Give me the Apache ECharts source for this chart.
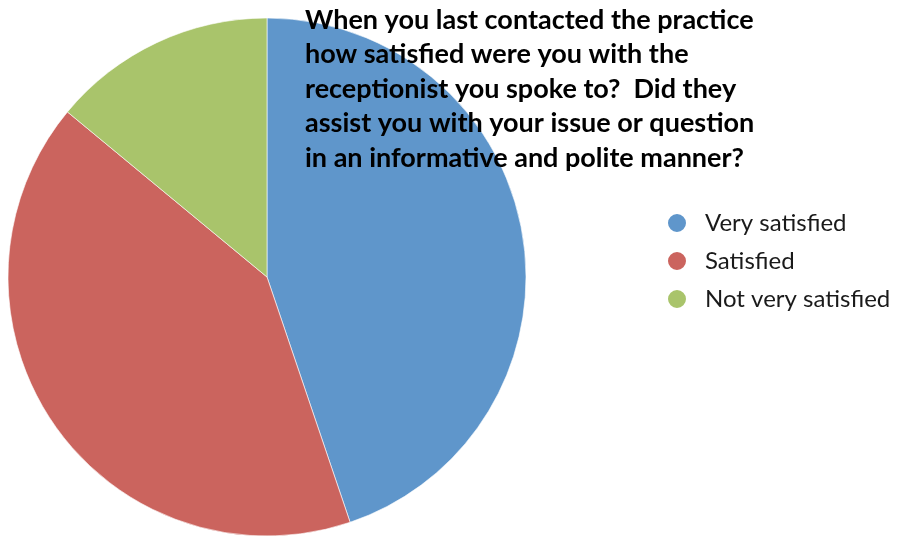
<!DOCTYPE html>
<html>
<head>
<meta charset="utf-8">
<script src="https://cdn.jsdelivr.net/npm/echarts@6/dist/echarts.min.js"></script>
<style>
  html, body { margin: 0; padding: 0; background: #fff; }
  #main { width: 897px; height: 539px; }
</style>
</head>
<body>
<div id="main"></div>
<script>
// 数据
var categories = ['Very satisfied', 'Satisfied', 'Not very satisfied'];
var values = [44.8, 41.2, 14.0];
var colors = ['#5F96CB', '#CB645E', '#A9C46B'];
var titleText = 'When you last contacted the practice\nhow satisfied were you with the\nreceptionist you spoke to?  Did they\nassist you with your issue or question\nin an informative and polite manner?';

var chart = echarts.init(document.getElementById('main'));

chart.setOption({
    title: {
        text: titleText,
        left: 300,
        top: -2,
        textStyle: {
            fontFamily: 'Lato',
            fontWeight: 'bold',
            fontSize: 27,
            lineHeight: 34.5,
            color: '#000'
        }
    },
    legend: {
        orient: 'vertical',
        left: 661,
        top: 206,
        icon: 'circle',
        itemWidth: 20,
        itemHeight: 20,
        itemGap: 14,
        textStyle: { fontFamily: 'Lato', fontSize: 24, lineHeight: 20, color: '#1a1a1a', padding: [0, 0, 0, 13] },
        data: categories
    },
    series: [{
        type: 'pie',
        center: [267, 277],
        radius: 259,
        startAngle: 90,
        clockwise: true,
        label: { show: false },
        labelLine: { show: false },
        silent: true,
        animation: false,
        itemStyle: { borderColor: '#fff', borderWidth: 0.6 },
        data: categories.map(function (c, i) {
            return { name: c, value: values[i], itemStyle: { color: colors[i] } };
        })
    }]
});
</script>
</body>
</html>
